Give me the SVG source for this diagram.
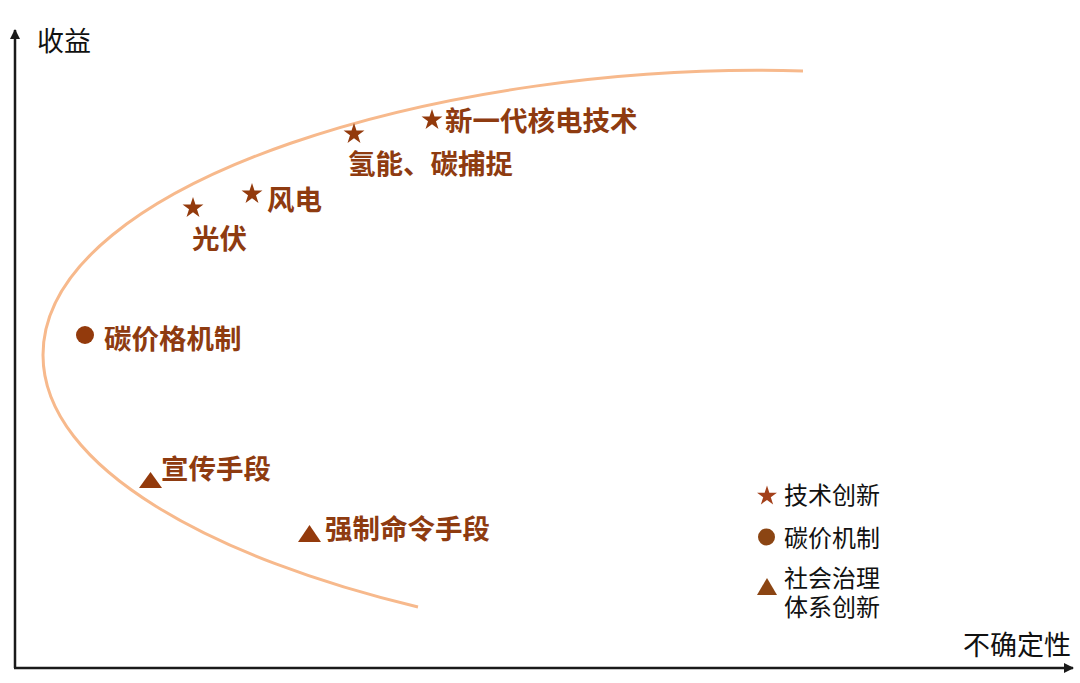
<svg xmlns="http://www.w3.org/2000/svg" width="1080" height="683" viewBox="0 0 1080 683">
<style>
.ax{stroke:#1a1a1a;stroke-width:2.5;fill:none}
.axt{font-family:"Noto Sans CJK SC","Noto Sans",sans-serif;font-size:27px;fill:#111}
.lb{font-family:"Noto Sans CJK SC","Noto Sans",sans-serif;font-size:27.5px;font-weight:bold;fill:#8E3B10}
.lg{font-family:"Noto Sans CJK SC","Noto Sans",sans-serif;font-size:24px;fill:#111}
.mk{fill:#933A0C}
.curve{stroke:#F7B98C;stroke-width:3;fill:none}
</style>
<defs>
<marker id="arr" viewBox="0 0 10 10" refX="9" refY="5" markerWidth="4" markerHeight="4" orient="auto">
<path d="M0,0 L10,5 L0,10 z" fill="#1a1a1a"/>
</marker>
<polygon id="star" points="0,-11 2.47,-3.4 10.46,-3.4 3.99,1.3 6.47,8.9 0,4.2 -6.47,8.9 -3.99,1.3 -10.46,-3.4 -2.47,-3.4"/>
</defs>
<rect width="1080" height="683" fill="#fff"/>
<g id="axes">
<line class="ax" x1="15" y1="668" x2="15" y2="30" marker-end="url(#arr)"/>
<line class="ax" x1="14" y1="668" x2="1073" y2="668" marker-end="url(#arr)"/>
<text class="axt" x="37" y="51">收益</text>
<text class="axt" x="963" y="655">不确定性</text>
</g>
<g id="curve">
<path class="curve" d="M803,71 C450,60 43,180 43,355 C43,470 220,560 418,607"/>
</g>
<g id="pv"><use href="#star" class="mk" x="193" y="208"/><text class="lb" x="192" y="249">光伏</text></g>
<g id="wind"><use href="#star" class="mk" x="252" y="194"/><text class="lb" x="267" y="210">风电</text></g>
<g id="h2"><use href="#star" class="mk" x="354" y="134"/><text class="lb" x="348" y="174">氢能、碳捕捉</text></g>
<g id="nuclear"><use href="#star" class="mk" x="432" y="120"/><text class="lb" x="445" y="131">新一代核电技术</text></g>
<g id="carbonprice"><circle class="mk" cx="85" cy="335" r="9"/><text class="lb" x="104" y="349">碳价格机制</text></g>
<g id="publicity"><polygon class="mk" points="139,488 162,488 150.5,472"/><text class="lb" x="161" y="479">宣传手段</text></g>
<g id="mandatory"><polygon class="mk" points="298,542 321,542 309.5,525"/><text class="lb" x="325" y="539">强制命令手段</text></g>
<g id="legend">
<use href="#star" fill="#A3401A" transform="translate(767,496) scale(0.95)"/>
<text class="lg" x="784" y="504">技术创新</text>
<circle cx="766.5" cy="537" r="8.5" fill="#8B4513"/>
<text class="lg" x="784" y="547">碳价机制</text>
<polygon points="757,595 777,595 767,578" fill="#8B4513"/>
<text class="lg"><tspan x="784" y="587">社会治理</tspan><tspan x="784" y="616">体系创新</tspan></text>
</g>
</svg>
